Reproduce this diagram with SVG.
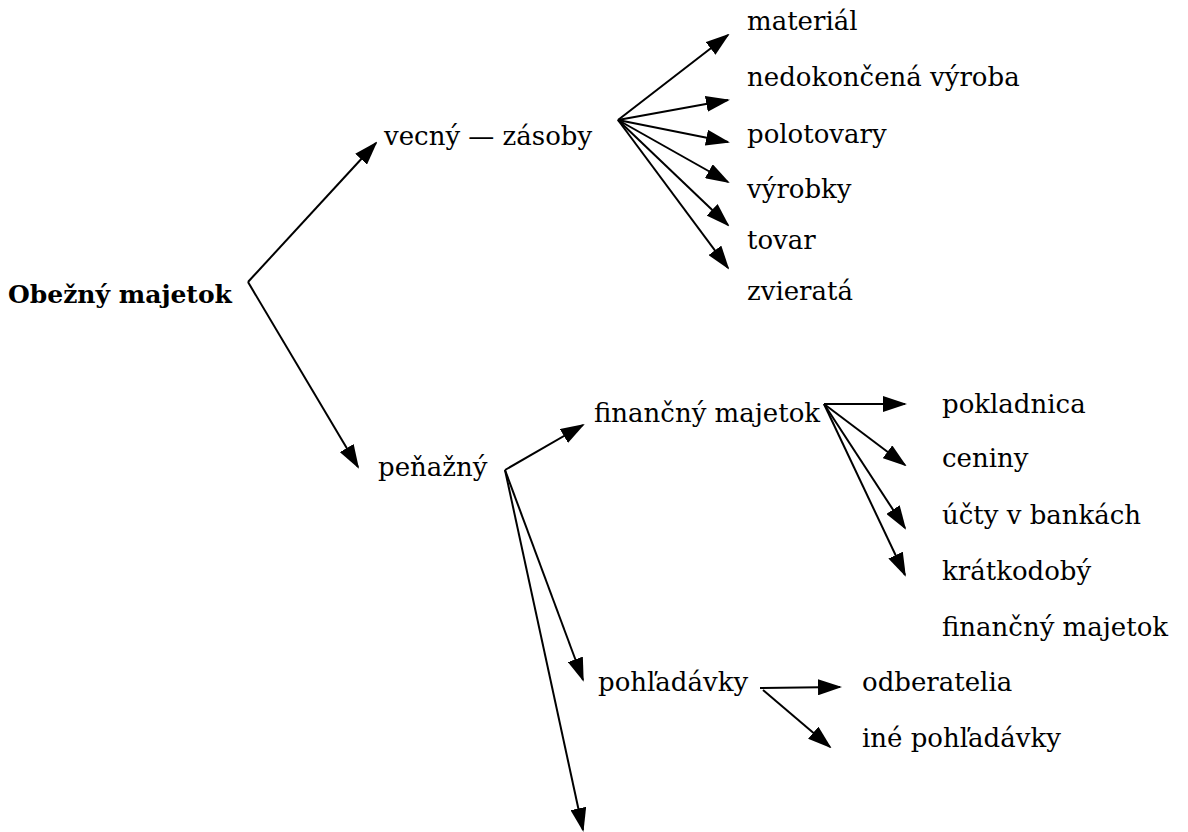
<svg xmlns="http://www.w3.org/2000/svg" width="1188" height="832" viewBox="0 0 1188 832">
<style>
text{font-family:"DejaVu Serif","Liberation Serif",serif;font-size:26px;fill:#000}
.b{font-weight:bold;font-size:25px}
.c{stroke:#000;stroke-width:2;fill:none;marker-end:url(#ah)}
</style>
<defs>
<marker id="ah" viewBox="-22 -8 24 16" refX="0" refY="0" markerWidth="24" markerHeight="16" markerUnits="userSpaceOnUse" orient="auto">
<path d="M-22,-8 L2,0 L-22,8 z" fill="#000"/>
</marker>
</defs>
<rect width="1188" height="832" fill="#fff"/>
<g id="n-root"><text class="b" x="8" y="303">Obežný majetok</text></g>
<g id="n-vecny"><text x="384" y="145">vecný — zásoby</text></g>
<g id="n-material"><text x="747" y="30">materiál</text></g>
<g id="n-nedok"><text x="747" y="86">nedokončená výroba</text></g>
<g id="n-polot"><text x="747" y="143">polotovary</text></g>
<g id="n-vyrobky"><text x="747" y="198">výrobky</text></g>
<g id="n-tovar"><text x="747" y="249">tovar</text></g>
<g id="n-zvierata"><text x="747" y="300">zvieratá</text></g>
<g id="n-penazny"><text x="378" y="476">peňažný</text></g>
<g id="n-finm"><text x="594" y="422">finančný majetok</text></g>
<g id="n-pokl"><text x="942" y="413">pokladnica</text></g>
<g id="n-ceniny"><text x="942" y="467">ceniny</text></g>
<g id="n-ucty"><text x="942" y="524">účty v bankách</text></g>
<g id="n-kratk"><text x="942" y="580">krátkodobý</text></g>
<g id="n-kratk2"><text x="942" y="636">finančný majetok</text></g>
<g id="n-pohl"><text x="598" y="691">pohľadávky</text></g>
<g id="n-odber"><text x="862" y="691">odberatelia</text></g>
<g id="n-ine"><text x="862" y="747">iné pohľadávky</text></g>
<g id="connectors">
<path class="c" d="M248,282 L376,143"/>
<path class="c" d="M248,282 L358,467"/>
<path class="c" d="M618,120 L728,35"/>
<path class="c" d="M618,120 L728,100"/>
<path class="c" d="M618,120 L728,142"/>
<path class="c" d="M618,120 L728,182"/>
<path class="c" d="M618,120 L728,225"/>
<path class="c" d="M618,120 L728,268"/>
<path class="c" d="M505,470 L583,425"/>
<path class="c" d="M505,470 L583,680"/>
<path class="c" d="M505,470 L583,830"/>
<path class="c" d="M824,404 L905,404"/>
<path class="c" d="M824,404 L905,465"/>
<path class="c" d="M824,404 L905,528"/>
<path class="c" d="M824,404 L905,575"/>
<path class="c" d="M760,688 L840,687"/>
<path class="c" d="M763,690 L830,747"/>
</g>
</svg>
